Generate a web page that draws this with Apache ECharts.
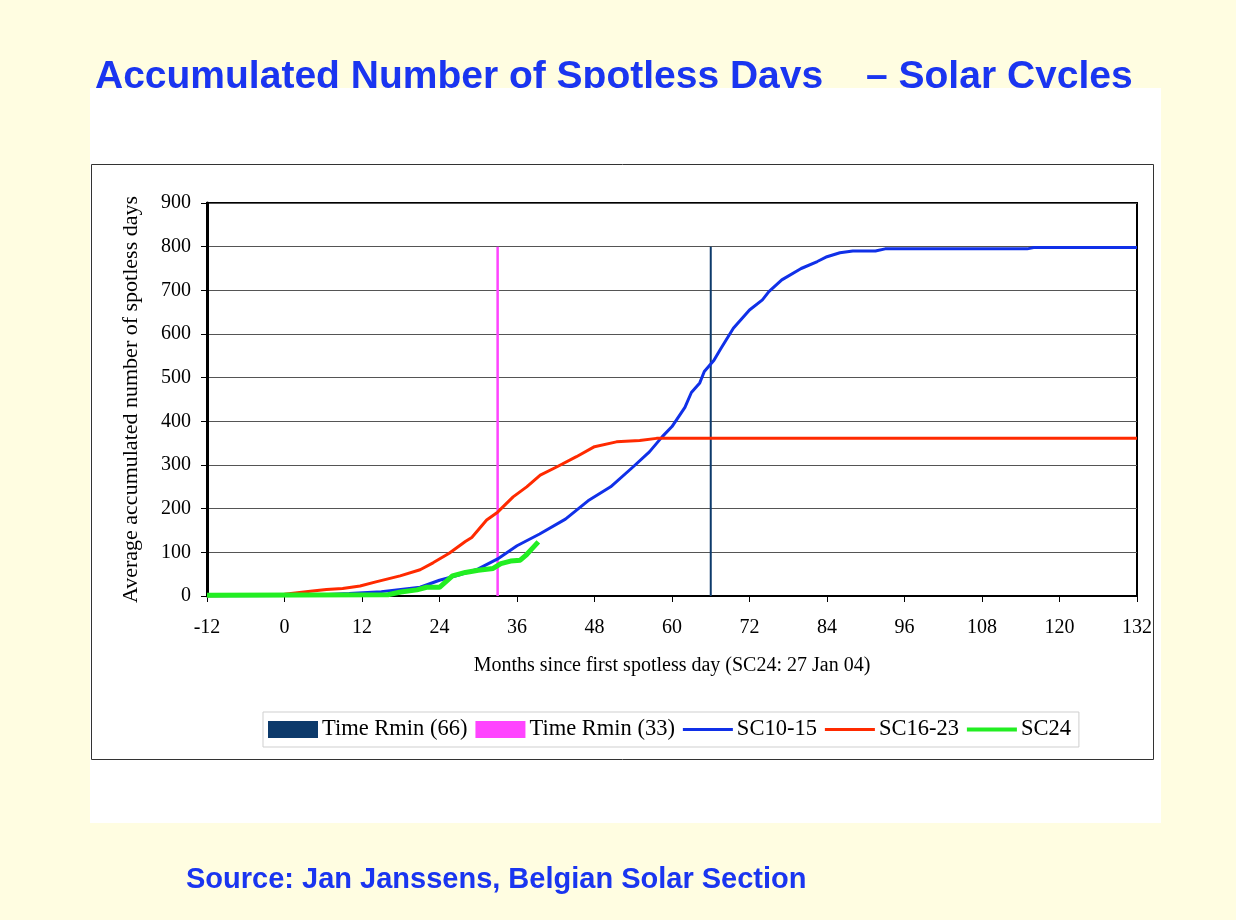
<!DOCTYPE html>
<html>
<head>
<meta charset="utf-8">
<title>Accumulated Number of Spotless Days</title>
<script src="https://cdn.jsdelivr.net/npm/echarts@6/dist/echarts.min.js"></script>
<style>
    html, body {margin: 0; padding: 0; background: #fffde1;}
    #chart {width: 1236px; height: 920px;}
</style>
</head>
<body>
<div id="chart"></div>
<script>
//x axis ticks (months)
var monthTicks = [-12, 0, 12, 24, 36, 48, 60, 72, 84, 96, 108, 120, 132];

//SC10-15 average curve
var sc1015Months = [-12, 0, 6, 10, 15, 18, 21, 24, 27, 30, 33, 36, 39.5, 43.5, 47, 50.5, 54, 56.5, 58.5, 60, 62, 63, 64.3, 65, 66.5, 67.5, 69.5, 72, 74, 75, 77, 80, 82.5, 84, 86, 88, 91.5, 93, 115, 116, 132];
var sc1015Values = [0, 1, 3, 6, 10, 15, 20, 36, 48, 62, 85, 115, 142, 176, 218, 250, 296, 330, 365, 388, 432, 466, 488, 514, 540, 565, 613, 655, 678, 697, 724, 750, 766, 777, 786, 790, 790, 795, 795, 798, 798];

//SC16-23 average curve
var sc1623Months = [-12, 0, 4, 6.5, 9, 11.7, 14.3, 17.9, 21, 23, 25.5, 28, 29, 31.3, 33, 35.4, 37.5, 39.6, 42.2, 45.2, 48, 51.4, 55, 57.6, 132];
var sc1623Values = [0, 4, 11, 15, 17, 23, 33, 46, 60, 76, 98, 125, 134, 174, 192, 227, 250, 277, 296, 319, 342, 353, 356, 361, 361];

//SC24 so far
var sc24Months = [-12, 16, 18, 20.5, 22, 24, 26, 28, 30, 32.3, 33.5, 35, 36.5, 37.5, 38.3, 39.3];
var sc24Values = [2, 3, 9, 14, 20, 20, 46, 54, 59, 63, 74, 80, 82, 95, 108, 124];

//time of Rmin markers
var rminLate = [66, 800];
var rminEarly = [33, 800];

//pair up x and y arrays
function pairs(xs, ys) {
    var out = [];
    for (var i = 0; i < xs.length; i++) {
        out.push([xs[i], ys[i]]);
    }
    return out;
}

var serif = '"Liberation Serif", "DejaVu Serif", serif';
var sans = '"Liberation Sans", Arial, sans-serif';
//thin bar used as legend icon for the curves
var lineIcon = 'path://M0,0 L50,0 L50,3 L0,3 Z';

var chart = echarts.init(document.getElementById("chart"));

var option = {
    animation: false,
    backgroundColor: '#fffde1',
    graphic: [
        //title, partly covered by the white panel below it
        {type: 'text', z: -3, x: 95, y: 58, style: {text: 'Accumulated Number of Spotless Days', font: 'bold 39px ' + sans, fill: '#1a35f0'}},
        {type: 'text', z: -3, x: 866, y: 58, style: {text: '– Solar Cycles', font: 'bold 39px ' + sans, fill: '#1a35f0'}},
        //white panel
        {type: 'rect', z: -2, shape: {x: 90, y: 88, width: 1071, height: 735}, style: {fill: '#ffffff'}},
        //chart frame
        {type: 'rect', z: -1, shape: {x: 91.5, y: 164.5, width: 1062, height: 595}, style: {fill: 'none', stroke: '#333', lineWidth: 1}},
        //source
        {type: 'text', z: -1, x: 186, y: 865, style: {text: 'Source: Jan Janssens, Belgian Solar Section', font: 'bold 29px ' + sans, fill: '#1a35f0'}}
    ],
    grid: {
        left: 207,
        right: 99,
        top: 203,
        bottom: 324,
        show: true,
        borderColor: '#000',
        borderWidth: 2
    },
    legend: {
        left: 263,
        top: 712,
        padding: [6, 8, 6, 5],
        borderColor: '#cfcfcf',
        borderWidth: 1,
        itemWidth: 50,
        itemHeight: 17,
        itemGap: 8,
        textStyle: {fontFamily: serif, fontSize: 22.5, color: '#000', padding: [0, 0, 0, -1]},
        data: [
            {name: 'Time Rmin (66)', icon: 'rect'},
            {name: 'Time Rmin (33)', icon: 'rect'},
            {name: 'SC10-15', icon: lineIcon},
            {name: 'SC16-23', icon: lineIcon},
            {name: 'SC24', icon: 'path://M0,0 L50,0 L50,4 L0,4 Z'}
        ]
    },
    xAxis: {
        type: 'value',
        min: monthTicks[0],
        max: monthTicks[monthTicks.length - 1],
        interval: 12,
        name: 'Months since first spotless day (SC24: 27 Jan 04)',
        nameLocation: 'middle',
        nameGap: 60,
        nameTextStyle: {fontFamily: serif, fontSize: 20, color: '#000'},
        axisLine: {onZero: false, lineStyle: {color: '#000', width: 2}},
        axisTick: {length: 6, lineStyle: {color: '#000'}},
        axisLabel: {fontFamily: serif, fontSize: 20, color: '#000', margin: 22},
        splitLine: {show: false}
    },
    yAxis: {
        type: 'value',
        min: 0,
        max: 900,
        interval: 100,
        name: 'Average accumulated number of spotless days',
        nameLocation: 'middle',
        nameGap: 65,
        nameTextStyle: {fontFamily: serif, fontSize: 22, color: '#000'},
        axisLine: {show: true, onZero: false, lineStyle: {color: '#000', width: 3}},
        axisTick: {show: true, length: 6, lineStyle: {color: '#000'}},
        axisLabel: {fontFamily: serif, fontSize: 20, color: '#000', margin: 16},
        splitLine: {lineStyle: {color: '#555', width: 1.2}}
    },
    series: [
        {
            name: 'Time Rmin (66)',
            type: 'line',
            symbol: 'none',
            color: '#0d3a6b',
            lineStyle: {width: 2},
            data: [[rminLate[0], 0], [rminLate[0], rminLate[1]]]
        },
        {
            name: 'Time Rmin (33)',
            type: 'line',
            symbol: 'none',
            color: '#ff44ff',
            lineStyle: {width: 2.5},
            data: [[rminEarly[0], 0], [rminEarly[0], rminEarly[1]]]
        },
        {
            name: 'SC10-15',
            type: 'line',
            symbol: 'none',
            color: '#1030e8',
            lineStyle: {width: 3},
            data: pairs(sc1015Months, sc1015Values)
        },
        {
            name: 'SC16-23',
            type: 'line',
            symbol: 'none',
            color: '#ff2a00',
            lineStyle: {width: 3},
            data: pairs(sc1623Months, sc1623Values)
        },
        {
            name: 'SC24',
            type: 'line',
            symbol: 'none',
            color: '#22ee22',
            lineStyle: {width: 5},
            data: pairs(sc24Months, sc24Values)
        }
    ]
};

chart.setOption(option);
</script>
</body>
</html>
